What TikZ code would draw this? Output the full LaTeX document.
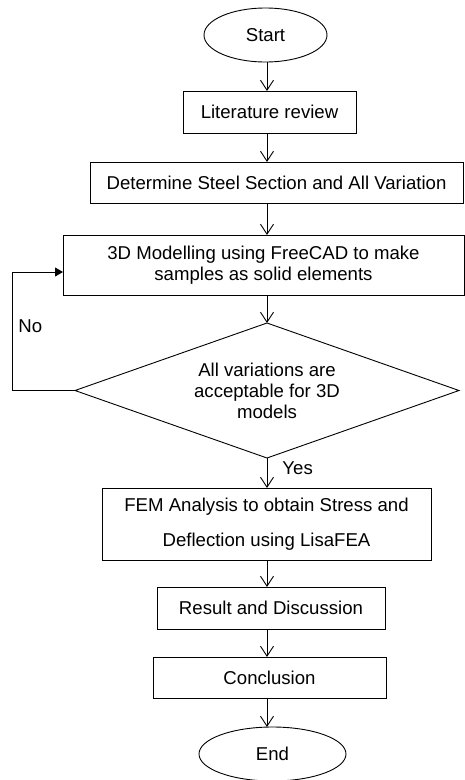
\documentclass[tikz,border=0pt]{standalone}
\usepackage{fontspec}
\setmainfont{Liberation Sans}
\usetikzlibrary{arrows.meta,positioning,shapes.geometric}
\newcommand{\flowfont}{\fontsize{18.6}{21}\selectfont}
\tikzset{
  stepbox/.style={rectangle, draw=black, line width=0.9pt, align=center,
                  font=\flowfont, inner sep=2pt, outer sep=0pt},
  termbox/.style={ellipse, draw=black, line width=0.9pt, font=\flowfont, inner sep=0pt, outer sep=0pt},
  askbox/.style={diamond, aspect=2.84, draw=black, line width=0.9pt, align=center,
                 font=\flowfont, inner sep=0pt, outer sep=0pt},
  arr/.style={-{Straight Barb[length=10pt, width=13pt]}, line width=0.9pt},
  backarr/.style={-{Triangle[length=8pt, width=9pt]}, line width=0.9pt},
}

\begin{document}
\begin{tikzpicture}[x=1pt, y=1pt, node distance=29pt]
    \useasboundingbox (0,0) rectangle (464,-780);
    \coordinate (axis) at (267,0);
    \node[termbox, minimum width=123pt, minimum height=54pt] (start) at (265.5,-35) {Start};
    \node[stepbox, minimum width=173pt, minimum height=42pt, below=of start, xshift=4pt] (lit) {Literature review};
    \node[stepbox, minimum width=373pt, minimum height=41pt, below=of lit, xshift=7pt] (det) {Determine Steel Section and All Variation};
    \node[stepbox, minimum width=401pt, minimum height=60pt, below=32pt of det, xshift=-13pt] (mod) {3D Modelling using FreeCAD to make\\samples as solid elements};
    \node[askbox, minimum width=384pt, minimum height=135pt, below=28pt of mod, xshift=3.5pt] (ask) {All variations are\\acceptable for 3D\\models};
    \node[stepbox, minimum width=329pt, minimum height=72pt, below=30pt of ask, xshift=-0.5pt] (fem) {FEM Analysis to obtain Stress and\\[14pt]Deflection using LisaFEA};
    \node[stepbox, minimum width=228pt, minimum height=42pt, below=27pt of fem, xshift=4.5pt] (res) {Result and Discussion};
    \node[stepbox, minimum width=233pt, minimum height=41pt, below=28pt of res, xshift=-1.5pt] (con) {Conclusion};
    \node[termbox, minimum width=147pt, minimum height=54pt, below=of con, xshift=3pt] (fin) {End};
    \draw[arr] (start.south -| axis) -- (lit.north -| axis);
    \draw[arr] (lit.south -| axis) -- (det.north -| axis);
    \draw[arr] (det.south -| axis) -- (mod.north -| axis);
    \draw[arr] (mod.south -| axis) -- (ask.north);
    \draw[arr] (ask.south) -- (fem.north -| ask.south) node[midway, right=15pt, yshift=5pt, inner sep=0pt, font=\flowfont] {Yes};
    \draw[arr] (fem.south -| axis) -- (res.north -| axis);
    \draw[arr] (res.south -| axis) -- (con.north -| axis);
    \draw[arr] (con.south -| axis) -- (fin.north -| axis);
    % loop back when a variation fails
    \draw[backarr] (ask.west) -| node[pos=0.77, right=6pt, inner sep=0pt, font=\flowfont] {No} ([xshift=-51pt, yshift=-7pt]mod.west) -- ([yshift=-7pt]mod.west);
  \end{tikzpicture}
\end{document}
